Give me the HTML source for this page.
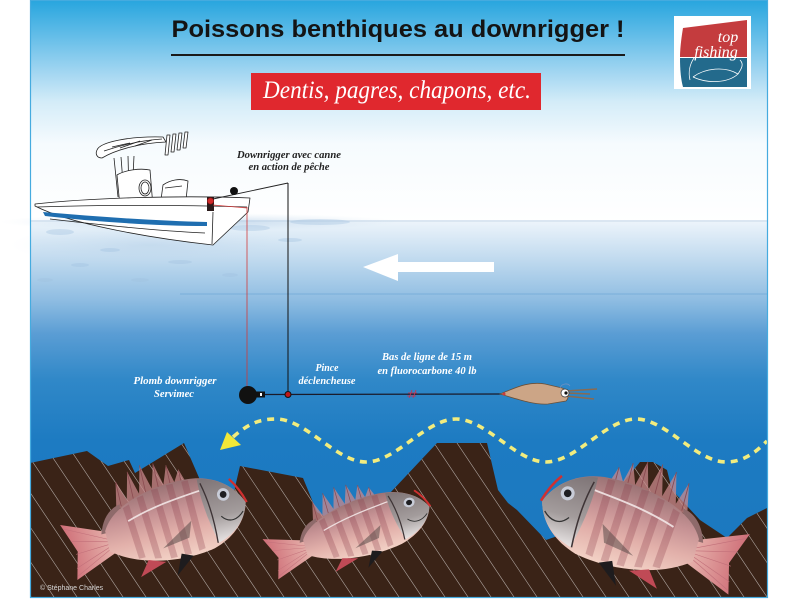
<!DOCTYPE html>
<html><head><meta charset="utf-8"><style>
html,body{margin:0;padding:0;background:#fff;}
svg{display:block}
</style></head><body>
<svg width="800" height="600" viewBox="0 0 800 600" xmlns="http://www.w3.org/2000/svg">
<defs>
  <linearGradient id="sky" gradientUnits="userSpaceOnUse" x1="0" y1="0" x2="0" y2="222">
    <stop offset="0" stop-color="#27a5de"/>
    <stop offset="0.14" stop-color="#5bbae7"/>
    <stop offset="0.32" stop-color="#a0d5f1"/>
    <stop offset="0.46" stop-color="#d4ecf8"/>
    <stop offset="0.65" stop-color="#f6fbfe"/>
    <stop offset="1" stop-color="#ffffff"/>
  </linearGradient>
  <linearGradient id="sea" gradientUnits="userSpaceOnUse" x1="0" y1="220" x2="0" y2="600">
    <stop offset="0" stop-color="#eef5fb"/>
    <stop offset="0.1" stop-color="#c2dbef"/>
    <stop offset="0.21" stop-color="#8fbde2"/>
    <stop offset="0.3" stop-color="#5a9dd4"/>
    <stop offset="0.42" stop-color="#3088c8"/>
    <stop offset="0.58" stop-color="#1d7bc2"/>
    <stop offset="1" stop-color="#1a77be"/>
  </linearGradient>
  <linearGradient id="fishBody" x1="0" y1="0" x2="0" y2="1">
    <stop offset="0" stop-color="#9a7274"/>
    <stop offset="0.35" stop-color="#c69294"/>
    <stop offset="0.65" stop-color="#e2b0aa"/>
    <stop offset="1" stop-color="#f3d2c6"/>
  </linearGradient>
  <linearGradient id="fishHead" x1="0" y1="0" x2="0" y2="1">
    <stop offset="0" stop-color="#7e7476"/>
    <stop offset="0.6" stop-color="#a39c9c"/>
    <stop offset="1" stop-color="#e8e4e4"/>
  </linearGradient>
  <linearGradient id="tailG" x1="1" y1="0" x2="0" y2="0">
    <stop offset="0" stop-color="#e7b5ae"/>
    <stop offset="1" stop-color="#cf6f78"/>
  </linearGradient>
  <radialGradient id="splash" cx="0.5" cy="0.5" r="0.5">
    <stop offset="0" stop-color="#a9c6e2" stop-opacity="0.6"/>
    <stop offset="1" stop-color="#c8dcef" stop-opacity="0"/>
  </radialGradient>
  <clipPath id="rockClip">
    <path id="rockPath" d="M30,463 L87,451 L108,466 L129,460 L135,473 L184,443 L200,480 L222,505 L232,500 L240,466 L303,478 L317,512 L355,535 L390,493 L437,443 L487,443 L498,490 L508,503 L517,510 L546,540 L575,530 L605,505 L640,462 L653,462 L667,470 L672,490 L700,520 L727,538 L747,518 L767,508 L767,598 L30,598 Z"/>
  </clipPath>
  <g id="fish">
    <path d="M-48,-6 L-90,-22 L-80,4 L-86,28 L-46,12 Z" fill="url(#tailG)"/>
    <g stroke="#c2707a" stroke-width="0.5">
      <line x1="-50" y1="0" x2="-88" y2="-18"/><line x1="-50" y1="2" x2="-84" y2="-6"/>
      <line x1="-50" y1="4" x2="-82" y2="6"/><line x1="-50" y1="6" x2="-84" y2="18"/>
      <line x1="-50" y1="8" x2="-85" y2="25"/>
    </g>
    <path d="M-38,-24 L-33,-48 L-27,-30 L-21,-54 L-15,-33 L-9,-57 L-3,-35 L3,-56 L8,-36 L14,-52 L18,-36 L24,-46 L28,-34 Z" fill="#c98a8c" opacity="0.75"/>
    <g stroke="#8a4a50" stroke-width="0.7">
      <line x1="-33" y1="-26" x2="-33" y2="-48"/><line x1="-21" y1="-30" x2="-21" y2="-54"/>
      <line x1="-9" y1="-32" x2="-9" y2="-57"/><line x1="3" y1="-34" x2="3" y2="-56"/>
      <line x1="14" y1="-35" x2="14" y2="-52"/><line x1="24" y1="-35" x2="24" y2="-46"/>
    </g>
    <path d="M-56,-6 C-52,-18 -45,-26 -34,-28 L-38,-6 Z" fill="#8e6a6a"/>
    <path d="M-52,-8 C-40,-30 0,-38 30,-36 C55,-34 70,-20 76,-5 C72,10 60,22 40,28 C10,34 -30,28 -52,10 Z" fill="url(#fishBody)"/>
    <g fill="#8a3a48" opacity="0.28">
      <path d="M-32,-24 L-26,-26 L-22,22 L-28,22Z"/>
      <path d="M-18,-30 L-12,-31 L-8,26 L-14,25Z"/>
      <path d="M-4,-34 L2,-34 L6,28 L0,28Z"/>
      <path d="M10,-35 L16,-35 L19,28 L13,28Z"/>
      <path d="M24,-35 L30,-35 L32,26 L26,27Z"/>
    </g>
    <path d="M-30,-12 C-5,-20 20,-22 40,-24" stroke="#f6ecec" stroke-width="1.5" fill="none" opacity="0.85"/>
    <path d="M38,-34 C55,-32 70,-20 76,-5 C72,10 60,20 45,24 C40,5 37,-15 38,-34Z" fill="url(#fishHead)"/>
    <path d="M40,-30 C45,-10 45,8 44,24" stroke="#3e3436" stroke-width="1.2" fill="none"/>
    <path d="M52,2 C58,10 66,8 72,2" stroke="#333" stroke-width="1" fill="none"/>
    <path d="M66,-28 C72,-20 75,-12 77,-5" stroke="#d03030" stroke-width="2" fill="none"/>
    <circle cx="58" cy="-16" r="5.5" fill="#c8ccd8"/>
    <circle cx="58" cy="-16" r="3" fill="#1e1e22"/>
    <path d="M25,0 L-5,18 L20,14Z" fill="#5a4a48" opacity="0.55"/>
    <path d="M10,26 L2,44 L20,30Z" fill="#1e1c1e"/>
    <path d="M-20,25 L-30,38 L-5,30Z" fill="#c04a56"/>
  </g>
</defs>

<!-- background -->
<rect x="0" y="0" width="800" height="600" fill="#fff"/>
<rect x="30" y="0" width="738" height="222" fill="url(#sky)"/>
<rect x="30" y="220" width="738" height="378" fill="url(#sea)"/>
<line x1="30" y1="221" x2="767" y2="221" stroke="#8aa9c8" stroke-width="0.8" opacity="0.5"/>
<line x1="180" y1="294" x2="767" y2="294" stroke="#4f93cc" stroke-width="1" opacity="0.4"/>

<!-- splash texture near boat -->
<ellipse cx="200" cy="222" rx="200" ry="9" fill="url(#splash)"/>
<ellipse cx="150" cy="245" rx="140" ry="20" fill="url(#splash)" opacity="0.5"/>
<g fill="#9fc0df" opacity="0.35">
  <ellipse cx="60" cy="232" rx="14" ry="3"/><ellipse cx="110" cy="250" rx="10" ry="2"/>
  <ellipse cx="250" cy="228" rx="20" ry="3"/><ellipse cx="290" cy="240" rx="12" ry="2"/>
  <ellipse cx="80" cy="265" rx="9" ry="2"/><ellipse cx="180" cy="262" rx="12" ry="2"/>
  <ellipse cx="320" cy="222" rx="30" ry="3"/><ellipse cx="230" cy="275" rx="8" ry="2"/>
  <ellipse cx="45" cy="280" rx="8" ry="2"/><ellipse cx="140" cy="280" rx="9" ry="2"/>
</g>

<!-- title -->
<text x="398" y="37" text-anchor="middle" font-family="Liberation Sans, Arial, sans-serif" font-weight="bold" font-size="24" fill="#141414" textLength="453" lengthAdjust="spacingAndGlyphs">Poissons benthiques au downrigger !</text>
<line x1="171" y1="55" x2="625" y2="55" stroke="#1a1a1a" stroke-width="2"/>

<rect x="251" y="73" width="290" height="37" fill="#e0282e"/>
<text x="397" y="98" text-anchor="middle" font-family="Liberation Serif, serif" font-style="italic" font-size="25" fill="#fff" textLength="268" lengthAdjust="spacingAndGlyphs">Dentis, pagres, chapons, etc.</text>

<!-- logo -->
<rect x="674" y="16" width="77" height="73" fill="#fff"/>
<path d="M683,28 C681,40 680,50 680,57 L747,57 L747,20 Z" fill="#c43c3e"/>
<path d="M680,58 L747,58 L747,87 L683,87 C681,80 680,70 680,58Z" fill="#236a8c"/>
<text x="728" y="42" text-anchor="middle" font-family="Liberation Serif, serif" font-style="italic" font-size="16" fill="#fff">top</text>
<text x="716" y="57" text-anchor="middle" font-family="Liberation Serif, serif" font-style="italic" font-size="16" fill="#fff">fishing</text>
<path d="M693,77 C705,68 725,66 738,74 C728,83 708,84 693,77 M738,74 C742,68 744,64 740,60 M690,80 C688,72 690,64 694,58" stroke="#fff" stroke-width="0.8" fill="none"/>

<!-- boat -->
<g stroke="#222" stroke-width="0.8" fill="#fff" stroke-linejoin="round">
  <path d="M97,150 C100,142 130,136 163,137 L166,142 C140,143 115,150 102,158 C97,158 95,154 97,150Z"/>
  <path d="M104,151 C125,144 145,140 162,139" fill="none"/>
  <path d="M112,147 L130,143 M120,148 L140,141 M135,146 L152,140" fill="none"/>
  <path d="M167,135 L170,135 L168,155 L165,155Z M173,134 L176,134 L174,152 L171,152Z M179,133 L182,133 L180,150 L177,150Z M185,132 L188,132 L186,148 L183,148Z"/>
  <path d="M114,158 L118,197 M121,157 L124,196 M128,156 L129,194 M134,156 L133,176" fill="none"/>
  <path d="M117,175 C125,170 140,168 150,170 L153,207 L120,207 Z"/>
  <ellipse cx="145" cy="188" rx="6" ry="8"/>
  <ellipse cx="145" cy="188" rx="4" ry="6"/>
  <path d="M160,207 L163,185 C170,180 180,178 188,181 L186,200 L190,207 Z"/>
  <path d="M165,188 L182,186" fill="none"/>
  <path d="M35,204 C90,198 180,195 250,198 L248,212 L213,245 C150,238 70,224 35,206 Z"/>
  <path d="M37,207 C100,205 180,205 247,207" fill="none"/>
  <path d="M50,219 C110,226 160,231 205,233" fill="none"/>
  <path d="M212,244 L213,212" fill="none"/>
</g>
<path d="M43,212 C100,217 160,221 207,222 L207,226 C150,226 90,221 45,216 Z" fill="#1f6eb0"/>
<!-- downrigger & rod -->
<line x1="213" y1="199" x2="288" y2="183" stroke="#222" stroke-width="0.9"/>
<circle cx="234" cy="191" r="4" fill="#111"/>
<rect x="207" y="197" width="7" height="14" fill="#2a1a1a"/>
<circle cx="210.5" cy="201" r="3.2" fill="#d02a2a" stroke="#7a1010" stroke-width="0.6"/>
<path d="M213,205 L247,208" stroke="#d63a3a" stroke-width="0.8" fill="none"/>
<line x1="247" y1="207" x2="247" y2="388" stroke="#d03a3a" stroke-width="0.8"/>
<line x1="288" y1="183" x2="288" y2="394" stroke="#111" stroke-width="1"/>

<!-- weight and line -->
<circle cx="248" cy="395" r="9" fill="#111"/>
<rect x="254" y="391.5" width="11" height="6" fill="#111"/>
<rect x="260" y="393" width="2" height="3" fill="#fff"/>
<line x1="265" y1="394.5" x2="502" y2="394" stroke="#1a1a2a" stroke-width="1.2"/>
<circle cx="288" cy="394.5" r="3" fill="#c01818" stroke="#111" stroke-width="1"/>
<path d="M409,398 L412,390 M413,398 L416,390 M408,393 L417,393 M407,396 L416,396" stroke="#d0304a" stroke-width="0.8"/>

<!-- squid lure -->
<path d="M500,394 C515,388 528,381 545,384 L562,388 C568,390 570,397 566,401 L548,404 C535,405 520,400 500,394Z" fill="#cca586" stroke="#6b5038" stroke-width="0.8"/>
<path d="M566,391 L597,389 M566,396 L594,399 M566,393 L590,394" stroke="#8a6a50" stroke-width="1.5"/>
<circle cx="565" cy="393" r="4" fill="#fff" stroke="#333" stroke-width="0.7"/>
<circle cx="566" cy="393" r="1.6" fill="#111"/>
<path d="M560,388 C562,383 568,383 570,386" stroke="#7090c0" fill="none" stroke-width="0.8"/>
<circle cx="504" cy="394" r="1.5" fill="#d03a3a"/>

<!-- labels -->
<g font-family="Liberation Serif, serif" font-style="italic" font-weight="bold" font-size="10.5" text-anchor="middle">
  <text x="289" y="158" fill="#222" textLength="104" lengthAdjust="spacingAndGlyphs">Downrigger avec canne</text>
  <text x="289" y="170" fill="#222" textLength="81" lengthAdjust="spacingAndGlyphs">en action de pêche</text>
  <g fill="#fff">
    <text x="175" y="384" textLength="83" lengthAdjust="spacingAndGlyphs">Plomb downrigger</text>
    <text x="174" y="397" textLength="40" lengthAdjust="spacingAndGlyphs">Servimec</text>
    <text x="327" y="371" textLength="23" lengthAdjust="spacingAndGlyphs">Pince</text>
    <text x="327" y="384" textLength="57" lengthAdjust="spacingAndGlyphs">déclencheuse</text>
    <text x="427" y="360" textLength="90" lengthAdjust="spacingAndGlyphs">Bas de ligne de 15 m</text>
    <text x="427" y="374" textLength="99" lengthAdjust="spacingAndGlyphs">en fluorocarbone 40 lb</text>
  </g>
</g>

<!-- white current arrow -->
<path d="M363,267 L398,254 L398,262 L494,262 L494,272 L398,272 L398,281 Z" fill="#fff"/>

<!-- yellow dashed path -->
<path d="M233,437 C250,422 262,419 276,419 C306,419 336,462 366,462 C396,462 426,419 456,419 C486,419 516,462 546,462 C576,462 606,419 636,419 C666,419 696,462 726,462 C745,462 758,450 767,441" fill="none" stroke="#f2ec7e" stroke-width="3.6" stroke-dasharray="7 6"/>
<polygon points="220,450 227,432 241,445" fill="#f2e838"/>

<!-- rocks -->
<use href="#rockPath" fill="#3a2317"/>
<g clip-path="url(#rockClip)" stroke="#ffffff" stroke-width="0.6" opacity="0.6">
  <line x1="-120" y1="440" x2="-13" y2="600"/>
  <line x1="-97" y1="440" x2="10" y2="600"/>
  <line x1="-74" y1="440" x2="33" y2="600"/>
  <line x1="-51" y1="440" x2="56" y2="600"/>
  <line x1="-28" y1="440" x2="79" y2="600"/>
  <line x1="-5" y1="440" x2="102" y2="600"/>
  <line x1="18" y1="440" x2="125" y2="600"/>
  <line x1="41" y1="440" x2="148" y2="600"/>
  <line x1="64" y1="440" x2="171" y2="600"/>
  <line x1="87" y1="440" x2="194" y2="600"/>
  <line x1="110" y1="440" x2="217" y2="600"/>
  <line x1="133" y1="440" x2="240" y2="600"/>
  <line x1="156" y1="440" x2="263" y2="600"/>
  <line x1="179" y1="440" x2="286" y2="600"/>
  <line x1="202" y1="440" x2="309" y2="600"/>
  <line x1="225" y1="440" x2="332" y2="600"/>
  <line x1="248" y1="440" x2="355" y2="600"/>
  <line x1="271" y1="440" x2="378" y2="600"/>
  <line x1="294" y1="440" x2="401" y2="600"/>
  <line x1="317" y1="440" x2="424" y2="600"/>
  <line x1="340" y1="440" x2="447" y2="600"/>
  <line x1="363" y1="440" x2="470" y2="600"/>
  <line x1="386" y1="440" x2="493" y2="600"/>
  <line x1="409" y1="440" x2="516" y2="600"/>
  <line x1="432" y1="440" x2="539" y2="600"/>
  <line x1="455" y1="440" x2="562" y2="600"/>
  <line x1="478" y1="440" x2="585" y2="600"/>
  <line x1="501" y1="440" x2="608" y2="600"/>
  <line x1="524" y1="440" x2="631" y2="600"/>
  <line x1="547" y1="440" x2="654" y2="600"/>
  <line x1="570" y1="440" x2="677" y2="600"/>
  <line x1="593" y1="440" x2="700" y2="600"/>
  <line x1="616" y1="440" x2="723" y2="600"/>
  <line x1="639" y1="440" x2="746" y2="600"/>
  <line x1="662" y1="440" x2="769" y2="600"/>
  <line x1="685" y1="440" x2="792" y2="600"/>
  <line x1="708" y1="440" x2="815" y2="600"/>
  <line x1="731" y1="440" x2="838" y2="600"/>
  <line x1="754" y1="440" x2="861" y2="600"/>
</g>

<!-- fish -->
<use href="#fish" transform="translate(164,527) rotate(-13) scale(1.12,1.15)"/>
<use href="#fish" transform="translate(356,532) rotate(-16) scale(1.02,0.86)"/>
<use href="#fish" transform="translate(633,532) rotate(15) scale(-1.26,1.28)"/>

<text x="40" y="590" font-family="Liberation Sans, Arial, sans-serif" font-size="7" fill="#d8d8d8">© Stéphane Charles</text>

<!-- frame -->
<rect x="30.5" y="0.5" width="737" height="597" fill="none" stroke="#45abdf" stroke-width="1.2"/>
</svg>
</body></html>
